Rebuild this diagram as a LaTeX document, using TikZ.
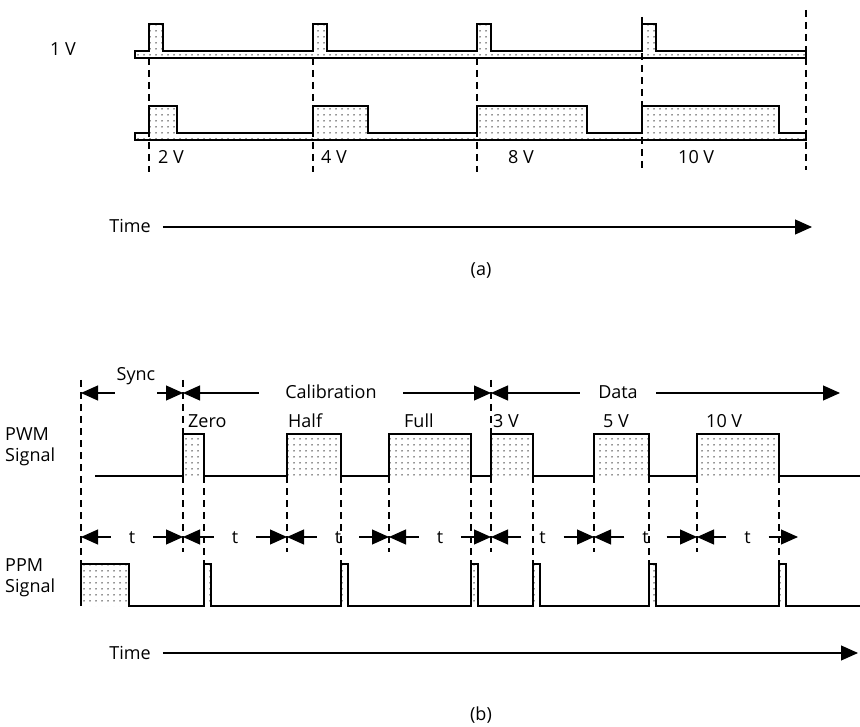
\documentclass[tikz,border=0pt]{standalone}
\usepackage{fontspec}
\setmainfont{Open Sans}
\usetikzlibrary{arrows.meta,patterns.meta}

\tikzset{
  wave/.style={draw=black, line width=1.5pt, pattern={Dots[distance=6pt,radius=0.75pt]}, pattern color=black!85},
  guide/.style={line width=1.1pt, dash pattern=on 7pt off 5pt},
  span/.style={line width=1.1pt, -{Triangle[length=17pt,width=15pt]}},
  lbl/.style={inner sep=0pt, text height=12pt, text depth=0pt},
}

\begin{document}
\begin{tikzpicture}[x=1pt,y=-1pt,font=\fontsize{18}{21}\selectfont]
\useasboundingbox (0,0) rectangle (860,727);

% (a) dashed guides
\draw[guide] (149,58) -- (149,172);
\draw[guide] (313,58) -- (313,172);
\draw[guide] (477,58) -- (477,172);
\draw[guide] (642,17) -- (642,172);
\draw[guide] (806,10) -- (806,170);

% (a) 1 V row and ramp row
\draw[wave] (135,51) \foreach \s in {149,313,477,642} { -- (\s,51) -- (\s,24) -- (\s+14,24) -- (\s+14,51) }
  -- (806,51) -- (806,58) -- (135,58) -- cycle;
\draw[wave] (135,133) \foreach \s/\w in {149/28,313/55,477/110,642/137} { -- (\s,133) -- (\s,106) -- (\s+\w,106) -- (\s+\w,133) }
  -- (806,133) -- (806,140) -- (135,140) -- cycle;

\node[lbl] (oneV) at (63,50) {1 V};
\node[lbl,anchor=base west] (twoV) at (158,164) {2 V};
\node[lbl,anchor=base west] (fourV) at (321,164) {4 V};
\node[lbl,anchor=base west] (eightV) at (508,164) {8 V};
\node[lbl,anchor=base west] (tenV) at (678,164) {10 V};

\node[lbl] (timeA) at (130,227) {Time};
\coordinate (endA) at (812,227);
\draw[span] ([xshift=12pt]timeA.east) -- (endA);
\node[lbl] (capA) at (481,270) {(a)};

% (b) dashed guides
\draw[guide] (81,380) -- (81,564);
\foreach \x in {183,491} \draw[guide] (\x,380) -- (\x,552);
\foreach \x in {287,389,594,697} \draw[guide] (\x,476) -- (\x,552);
\foreach \x in {204,341,471,533,649,779} \draw[guide] (\x,476) -- (\x,564);

% (b) PWM and PPM signals
\draw[wave] (95,476) \foreach \s/\e in {183/204,287/341,389/471,491/533,594/649,697/779} { -- (\s,476) -- (\s,434) -- (\e,434) -- (\e,476) } -- (860,476);
\draw[wave] (81,606) -- (81,564) -- (129,564) -- (129,606)
  \foreach \s in {204,341,471,533,649,779} { -- (\s,606) -- (\s,564) -- (\s+7,564) -- (\s+7,606) } -- (860,606);

\node[lbl,anchor=west,align=left,text height=,text depth=] (pwm) at (5,447) {PWM\\Signal};
\node[lbl,anchor=west,align=left,text height=,text depth=] (ppm) at (5,578) {PPM\\Signal};

% frame sections
\coordinate (s0) at (81,393);
\coordinate (s1) at (183,393);
\coordinate (s2) at (491,393);
\coordinate (s3) at (840,393);
\node[lbl,minimum width=42pt] (sync) at (136,375) {Sync};
\draw[span] (sync.west |- s0) -- (s0);
\draw[span] (sync.east |- s1) -- (s1);
\node[lbl,minimum width=144pt] (calib) at (331,393) {Calibration};
\draw[span] (calib.west) -- (s1);
\draw[span] (calib.east) -- (s2);
\node[lbl,minimum width=76pt] (data) at (618,393) {Data};
\draw[span] (data.west) -- (s2);
\draw[span] (data.east) -- (s3);

\node[lbl,anchor=base west] (zero) at (188,428) {Zero};
\node[lbl,anchor=base west] (half) at (288,428) {Half};
\node[lbl,anchor=base west] (full) at (404,428) {Full};
\node[lbl,anchor=base west] (threeV) at (493,428) {3 V};
\node[lbl,anchor=base west] (fiveV) at (603,428) {5 V};
\node[lbl,anchor=base west] (tenVb) at (706,428) {10 V};

% t intervals
\foreach \a/\b [count=\i] in {81/183,183/287,287/389,389/491,491/594,594/697,697/798} {
  \node[lbl,minimum width=42pt] (t\i) at ({(\a+\b)/2},537) {t};
  \draw[span] (t\i.west) -- (\a,537);
  \draw[span] (t\i.east) -- (\b,537);
}

\node[lbl] (timeB) at (130,653) {Time};
\coordinate (endB) at (858,653);
\draw[span] ([xshift=12pt]timeB.east) -- (endB);
\node[lbl] (capB) at (481,714) {(b)};
\end{tikzpicture}
\end{document}
